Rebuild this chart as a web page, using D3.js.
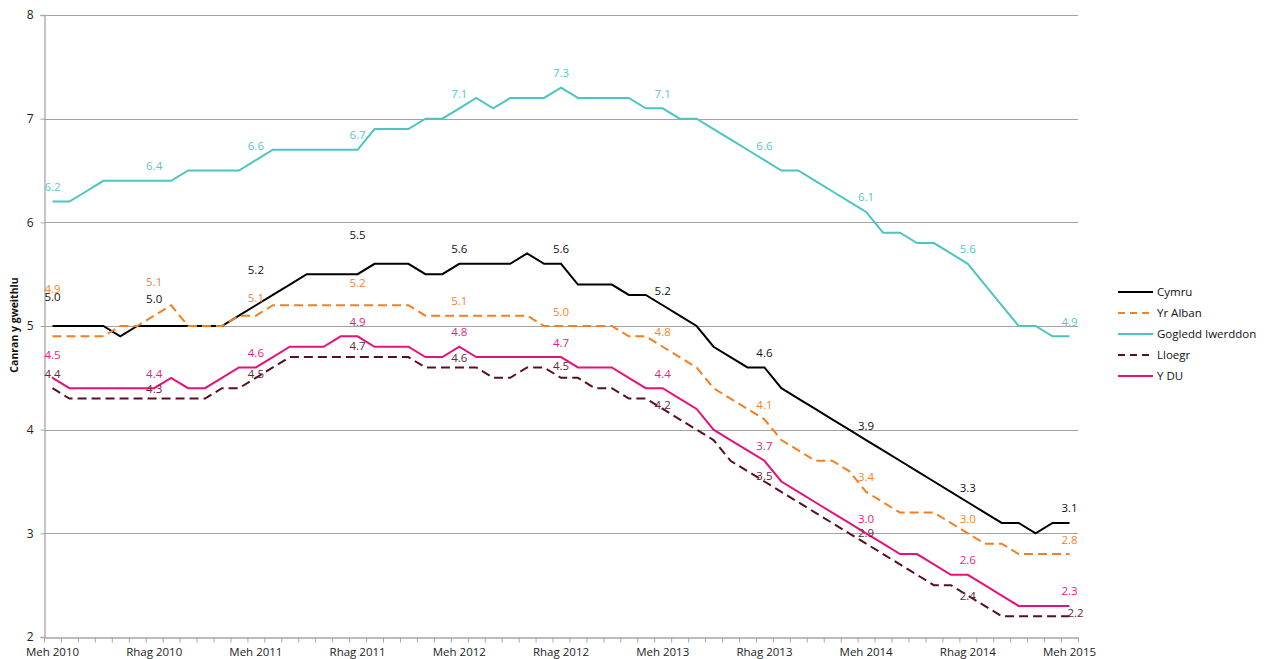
<!DOCTYPE html>
<html lang="cy">
<head>
<meta charset="utf-8">
<title>Canran y gweithlu</title>
<script src="https://cdn.jsdelivr.net/npm/d3@7"></script>
<style>
  body { margin: 0; background: #fff; }
  text { font-family: "Open Sans", sans-serif; }
</style>
</head>
<body>
<script>
// categories: monthly, Meh 2010 .. Meh 2015
var months = [
  "Meh 2010","Gorff 2010","Awst 2010","Medi 2010","Hyd 2010","Tach 2010","Rhag 2010",
  "Ion 2011","Chwef 2011","Maw 2011","Ebr 2011","Mai 2011","Meh 2011","Gorff 2011","Awst 2011","Medi 2011","Hyd 2011","Tach 2011","Rhag 2011",
  "Ion 2012","Chwef 2012","Maw 2012","Ebr 2012","Mai 2012","Meh 2012","Gorff 2012","Awst 2012","Medi 2012","Hyd 2012","Tach 2012","Rhag 2012",
  "Ion 2013","Chwef 2013","Maw 2013","Ebr 2013","Mai 2013","Meh 2013","Gorff 2013","Awst 2013","Medi 2013","Hyd 2013","Tach 2013","Rhag 2013",
  "Ion 2014","Chwef 2014","Maw 2014","Ebr 2014","Mai 2014","Meh 2014","Gorff 2014","Awst 2014","Medi 2014","Hyd 2014","Tach 2014","Rhag 2014",
  "Ion 2015","Chwef 2015","Maw 2015","Ebr 2015","Mai 2015","Meh 2015"
];

var cymru = [5.0,5.0,5.0,5.0,4.9,5.0,5.0,5.0,5.0,5.0,5.0,5.1,5.2,5.3,5.4,5.5,5.5,5.5,5.5,5.6,
  5.6,5.6,5.5,5.5,5.6,5.6,5.6,5.6,5.7,5.6,5.6,5.4,5.4,5.4,5.3,5.3,5.2,5.1,5.0,4.8,
  4.7,4.6,4.6,4.4,4.3,4.2,4.1,4.0,3.9,3.8,3.7,3.6,3.5,3.4,3.3,3.2,3.1,3.1,3.0,3.1,3.1];

var yrAlban = [4.9,4.9,4.9,4.9,5.0,5.0,5.1,5.2,5.0,5.0,5.0,5.1,5.1,5.2,5.2,5.2,5.2,5.2,5.2,5.2,
  5.2,5.2,5.1,5.1,5.1,5.1,5.1,5.1,5.1,5.0,5.0,5.0,5.0,5.0,4.9,4.9,4.8,4.7,4.6,4.4,
  4.3,4.2,4.1,3.9,3.8,3.7,3.7,3.6,3.4,3.3,3.2,3.2,3.2,3.1,3.0,2.9,2.9,2.8,2.8,2.8,2.8];

var gogleddIwerddon = [6.2,6.2,6.3,6.4,6.4,6.4,6.4,6.4,6.5,6.5,6.5,6.5,6.6,6.7,6.7,6.7,6.7,6.7,6.7,6.9,
  6.9,6.9,7.0,7.0,7.1,7.2,7.1,7.2,7.2,7.2,7.3,7.2,7.2,7.2,7.2,7.1,7.1,7.0,7.0,6.9,
  6.8,6.7,6.6,6.5,6.5,6.4,6.3,6.2,6.1,5.9,5.9,5.8,5.8,5.7,5.6,5.4,5.2,5.0,5.0,4.9,4.9];

var lloegr = [4.4,4.3,4.3,4.3,4.3,4.3,4.3,4.3,4.3,4.3,4.4,4.4,4.5,4.6,4.7,4.7,4.7,4.7,4.7,4.7,
  4.7,4.7,4.6,4.6,4.6,4.6,4.5,4.5,4.6,4.6,4.5,4.5,4.4,4.4,4.3,4.3,4.2,4.1,4.0,3.9,
  3.7,3.6,3.5,3.4,3.3,3.2,3.1,3.0,2.9,2.8,2.7,2.6,2.5,2.5,2.4,2.3,2.2,2.2,2.2,2.2,2.2];

var yDU = [4.5,4.4,4.4,4.4,4.4,4.4,4.4,4.5,4.4,4.4,4.5,4.6,4.6,4.7,4.8,4.8,4.8,4.9,4.9,4.8,
  4.8,4.8,4.7,4.7,4.8,4.7,4.7,4.7,4.7,4.7,4.7,4.6,4.6,4.6,4.5,4.4,4.4,4.3,4.2,4.0,
  3.9,3.8,3.7,3.5,3.4,3.3,3.2,3.1,3.0,2.9,2.8,2.8,2.7,2.6,2.6,2.5,2.4,2.3,2.3,2.3,2.3];

var yTicks = [2, 3, 4, 5, 6, 7, 8];

var series = [
  { name: "Cymru",            values: cymru,           color: "#000000", label: "#111111", dash: null },
  { name: "Yr Alban",         values: yrAlban,         color: "#F57F20", label: "#F5842A", dash: "9,5" },
  { name: "Gogledd Iwerddon", values: gogleddIwerddon, color: "#4CC4C4", label: "#55C6CA", dash: null },
  { name: "Lloegr",           values: lloegr,          color: "#5A0E22", label: "#6A2636", dash: "9,5" },
  { name: "Y DU",             values: yDU,             color: "#E5127D", label: "#E51E85", dash: null }
];

// draw order (back to front)
var drawOrder = ["Gogledd Iwerddon", "Cymru", "Yr Alban", "Lloegr", "Y DU"];

// hand-moved data labels: distance above the point (px)
var labelLift = {
  "Cymru":    { 0: 29, 6: 27, 12: 35, 18: 39 },
  "Yr Alban": { 0: 47, 6: 34, 12: 18, 18: 22 },
  "Y DU":     { 0: 23 },
  "Lloegr":   { 6: 10, 12: 4, 18: 11, 24: 9, 30: 12, 36: 4, 42: 5.5, 48: 10.7, 54: 0, 60: 3 }
};

var width = 1271, height = 659;
var plot = { left: 44, right: 1078, top: 15, bottom: 637 };

var svg = d3.select("body").append("svg")
    .attr("width", width)
    .attr("height", height);

var x = d3.scaleBand()
    .domain(d3.range(months.length))
    .range([plot.left, plot.right])
    .paddingInner(0).paddingOuter(0);

var xTickScale = d3.scaleLinear()
    .domain([0, months.length])
    .range([plot.left, plot.right]);

var y = d3.scaleLinear()
    .domain([2, 8])
    .range([plot.bottom, plot.top]);

function cx(i) { return x(i) + x.bandwidth() / 2; }

// gridlines
svg.append("g")
  .selectAll("line")
  .data(yTicks.filter(function (t) { return t > 2; }))
  .enter().append("line")
    .attr("x1", plot.left).attr("x2", plot.right)
    .attr("y1", function (d) { return Math.round(y(d)) + 0.5; })
    .attr("y2", function (d) { return Math.round(y(d)) + 0.5; })
    .attr("stroke", "#A3A3A3")
    .attr("stroke-width", 1);

// y axis
var yAxis = svg.append("g")
    .attr("transform", "translate(" + (plot.left + 0.5) + ",0)")
    .call(d3.axisLeft(y).tickValues(yTicks).tickFormat(d3.format("d")).tickSize(4).tickPadding(7));
yAxis.select(".domain").attr("stroke", "#A6A6A6").attr("stroke-width", 1.3);
yAxis.selectAll(".tick line").attr("stroke", "#A6A6A6");
yAxis.selectAll(".tick text").attr("font-size", "12px").attr("fill", "#222")
    .style("font-family", "'Open Sans', sans-serif");

// x axis: tick marks between months
var xTicks = svg.append("g")
    .attr("transform", "translate(0," + (plot.bottom + 0.5) + ")")
    .call(d3.axisBottom(xTickScale).tickValues(d3.range(months.length + 1)).tickFormat("").tickSize(5).tickSizeOuter(0));
xTicks.select(".domain").attr("stroke", "#A6A6A6").attr("stroke-width", 1.3);
xTicks.selectAll(".tick line").attr("stroke", "#A6A6A6");

// x axis labels every six months
var xLabels = svg.append("g")
    .attr("transform", "translate(0," + (plot.bottom + 0.5) + ")")
    .call(d3.axisBottom(x)
      .tickValues(d3.range(0, months.length, 6))
      .tickFormat(function (i) { return months[i]; })
      .tickSize(0).tickPadding(10));
xLabels.select(".domain").remove();
xLabels.selectAll(".tick text").attr("font-size", "11.5px").attr("fill", "#222")
    .style("font-family", "'Open Sans', sans-serif");

// y title
svg.append("text")
    .attr("transform", "translate(18," + 325 + ") rotate(-90)")
    .attr("text-anchor", "middle")
    .attr("font-size", "10.5px")
    .attr("font-weight", "bold")
    .attr("fill", "#111")
    .text("Canran y gweithlu");

var line = d3.line()
    .x(function (d, i) { return cx(i); })
    .y(function (d) { return y(d); });

var byName = {};
series.forEach(function (s) { byName[s.name] = s; });

drawOrder.forEach(function (n) {
  var s = byName[n];
  svg.append("path")
    .datum(s.values)
    .attr("fill", "none")
    .attr("stroke", s.color)
    .attr("stroke-width", 2)
    .attr("stroke-dasharray", s.dash)
    .attr("d", line);
});

// data labels every six months
drawOrder.forEach(function (n) {
  var s = byName[n];
  var lifts = labelLift[n] || {};
  svg.append("g")
    .selectAll("text")
    .data(d3.range(0, s.values.length, 6))
    .enter().append("text")
      .attr("x", function (i) { return cx(i) + (n === "Lloegr" && i === 60 ? 6 : 0); })
      .attr("y", function (i) {
        var lift = lifts[i] !== undefined ? lifts[i] : 14.5;
        return y(s.values[i]) - lift + 4;
      })
      .attr("text-anchor", "middle")
      .attr("font-size", "11.5px")
      .attr("fill", s.label)
      .text(function (i) { return d3.format(".1f")(s.values[i]); });
});

// legend
var legend = svg.append("g").attr("transform", "translate(1118,292)");
var rows = legend.selectAll("g")
    .data(series)
    .enter().append("g")
    .attr("transform", function (d, i) { return "translate(0," + (i * 21) + ")"; });
rows.append("line")
    .attr("x1", 0).attr("x2", 35)
    .attr("stroke", function (d) { return d.color; })
    .attr("stroke-width", 2)
    .attr("stroke-dasharray", function (d) { return d.dash ? "7,5" : null; });
rows.append("text")
    .attr("x", 39).attr("y", 4)
    .attr("font-size", "11.5px")
    .attr("fill", "#111")
    .text(function (d) { return d.name; });
</script>
</body>
</html>
